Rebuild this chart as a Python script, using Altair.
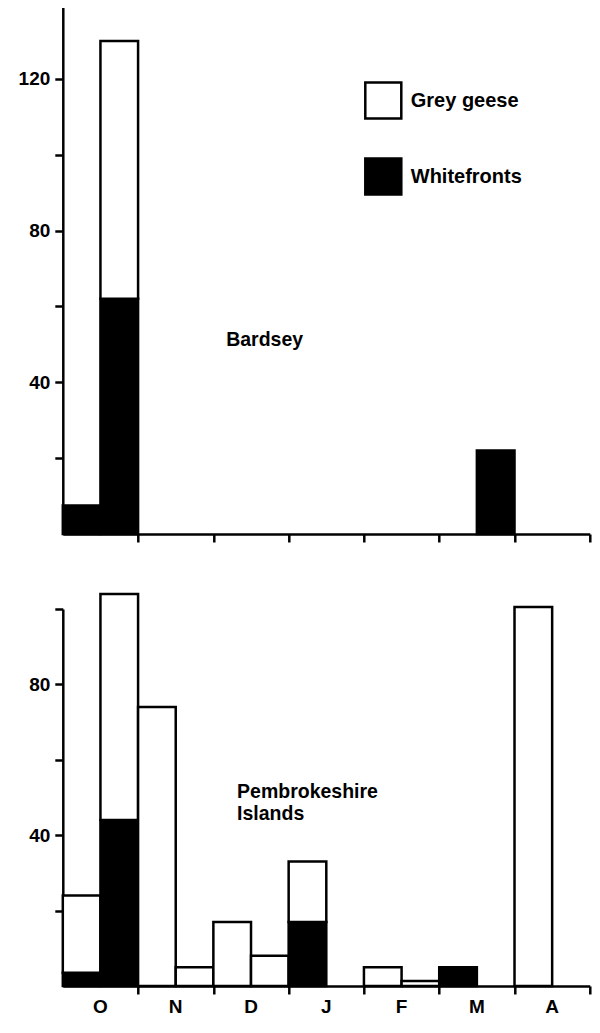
import altair as alt
import pandas as pd

FONT = "Liberation Sans"

# Months (each split into two half-month periods)
months = ["O", "N", "D", "J", "F", "M", "A"]
species = ["Grey geese", "Whitefronts"]

# Bardsey: counts per half-month (14 periods, Oct-1 .. Apr-2)
bardsey_whitefronts = [7.5, 62, 0, 0, 0, 0, 0, 0, 0, 0, 0, 22, 0, 0]
bardsey_grey = [0, 68, 0, 0, 0, 0, 0, 0, 0, 0, 0, 0, 0, 0]

# Pembrokeshire Islands
pembs_whitefronts = [3.5, 44, 0, 0, 0, 0, 17, 0, 0, 0, 5, 0, 0, 0]
pembs_grey = [20.5, 60, 74, 5, 17, 8, 16, 0, 5, 1.3, 0, 0, 100.5, 0]

panel_names = ["Bardsey", "Pembrokeshire\nIslands"]
label_pos = [(4.34, 49.6), (4.63, 49.9)]

W = 527
H_TOP = 531
H_BOT = 377


def build_df(wf, grey):
    rows = []
    for i, (w, g) in enumerate(zip(wf, grey)):
        if w > 0:
            rows.append({"x0": i, "x1": i + 1, "lo": 0, "hi": w, "species": species[1]})
        if g > 0:
            rows.append({"x0": i, "x1": i + 1, "lo": w, "hi": w + g, "species": species[0]})
    return pd.DataFrame(rows)


def panel(wf, grey, ymax, height, name, lpos, show_legend, show_months):
    df = build_df(wf, grey)
    yvals = list(range(20, ymax + 1, 20))
    if show_legend:
        leg = alt.Legend(
            orient="none", legendX=301, legendY=78, title=None,
            symbolType="square", symbolSize=1296, symbolStrokeColor="black",
            symbolStrokeWidth=2.5, symbolFillColor="white",
            labelFontSize=20, labelFont=FONT, labelFontWeight="bold",
            labelColor="black", rowPadding=29, padding=0, labelOffset=8,
        )
    else:
        leg = None
    bars = alt.Chart(df).mark_bar(stroke="black", strokeWidth=2.5, strokeJoin="miter").encode(
        x=alt.X("x0:Q", scale=alt.Scale(domain=[0, 14], nice=False, zero=False),
                axis=alt.Axis(values=list(range(2, 15, 2)), labels=False, title=None,
                              tickSize=8, grid=False)),
        x2="x1:Q",
        y=alt.Y("lo:Q", scale=alt.Scale(domain=[0, ymax], nice=False),
                axis=alt.Axis(values=yvals, title=None, grid=False, tickSize=8,
                              labelPadding=5, labelFlush=True, labelFlushOffset=0,
                              labelFontSize={"condition": {"test": "datum.value % 40 == 0", "value": 19}, "value": 0},
                              labelExpr="datum.value % 40 == 0 ? datum.label : ''")),
        y2="hi:Q",
        fill=alt.Fill("species:N", scale=alt.Scale(domain=species, range=["white", "black"]),
                      legend=leg),
    )
    ldf = pd.DataFrame({"x": [lpos[0]], "y": [lpos[1]], "t": [name]})
    label = alt.Chart(ldf).mark_text(
        align="left", baseline="alphabetic", font=FONT, fontWeight="bold",
        fontSize=19.5, lineBreak="\n", lineHeight=22, color="black",
    ).encode(x="x:Q", y="y:Q", text="t:N")
    layers = [bars, label]
    if show_months:
        mdf = pd.DataFrame({"m": months, "c": [2 * i + 1 for i in range(len(months))]})
        mtext = alt.Chart(mdf).mark_text(
            font=FONT, fontWeight="bold", fontSize=19, baseline="alphabetic", color="black"
        ).encode(x="c:Q", y=alt.value(height + 27), text="m:N")
        layers.append(mtext)
    return alt.layer(*layers).properties(width=W, height=height)


top = panel(bardsey_whitefronts, bardsey_grey, 140, H_TOP, panel_names[0], label_pos[0], True, False)
bot = panel(pembs_whitefronts, pembs_grey, 100, H_BOT, panel_names[1], label_pos[1], False, True)

chart = alt.vconcat(top, bot, spacing=75, bounds="flush").properties(
    padding={"left": 9.8, "top": -7, "right": 0, "bottom": 0},
).configure_view(stroke=None).configure_axis(
    labelFont=FONT, labelFontWeight="bold", labelFontSize=19, labelColor="black",
    domainColor="black", domainWidth=2.5, tickColor="black", tickWidth=2.5,
)

chart.save("out.html", embed_options={"renderer": "svg", "actions": False})
